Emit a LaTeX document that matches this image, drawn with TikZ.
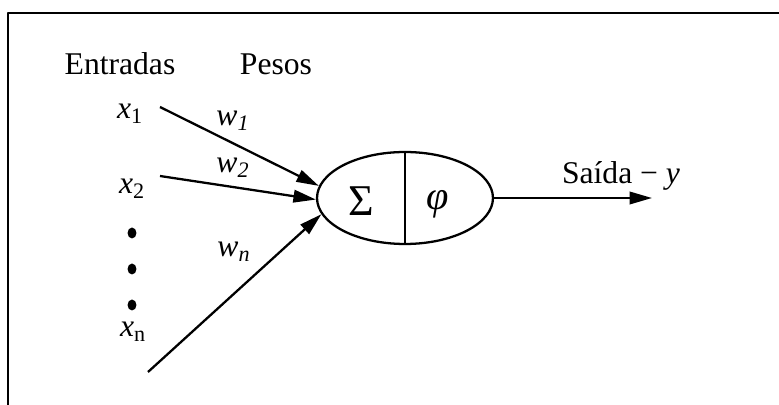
\documentclass[tikz,border=0pt]{standalone}
\usepackage{fontspec}
\setmainfont{Liberation Serif}
\usetikzlibrary{arrows.meta,shapes.geometric}
\tikzset{
  every picture/.style={line width=1.3pt, line join=round,
    >={Triangle[length=0.45cm,width=0.25cm]}},
  every node/.style={font=\fontsize{18}{20}\selectfont},
  % Linientypen
  frame/.style={line width=1.4pt},
  sig/.style={line width=1.3pt, ->},
  % Knoten
  unit/.style={ellipse, draw, line width=1.3pt, minimum width=3.52cm,
    minimum height=1.84cm, inner sep=0pt},
  dot/.style={ellipse, fill, inner sep=0pt, minimum width=0.18cm, minimum height=0.22cm},
}
\newcommand{\xin}[1]{\textit{x}\textsubscript{#1}}
\newcommand{\wgt}[1]{\textit{w}\textsubscript{\textit{#1}}}

\begin{document}
\begin{tikzpicture}[x=0.02cm, y=-0.02cm]
  \useasboundingbox (0,0) rectangle (779,405);
  % Rahmen
  \draw[frame] (8,405) -- (8,13) -- (779,13);
  % Überschriften
  \node (ent) at (120,64) {Entradas};
  \node (pes) at (276,64) {Pesos};
  % Eingänge
  \node (x1) at (130,114) {\xin{1}};
  \node (x2) at (132,189) {\xin{2}};
  \node[dot] (d1) at (132,233) {};
  \node[dot] (d2) at (132,269) {};
  \node[dot] (d3) at (132,305) {};
  \node (xn) at (133,332) {\xin{n}};
  % Neuron: Summe und Aktivierung
  \node[unit] (neuron) at (405,198) {};
  \draw (neuron.north) -- (neuron.south);
  \node[font=\fontsize{25}{26}\selectfont] (sum) at (361,201) {Σ};
  \node[font=\fontsize{23}{24}\selectfont] (act) at (438,204) {\textit{φ}};
  % Signale mit Gewichten
  \coordinate (s1) at (160,107);
  \coordinate (s2) at (160,176);
  \coordinate (sn) at (148,372);
  \draw[sig] (s1) -- (neuron.172);
  \draw[sig] (s2) -- (neuron.181);
  \draw[sig] (sn) -- (neuron.191);
  \node (w1) at (233,121) {\wgt{1}};
  \node (w2) at (233,168) {\wgt{2}};
  \node (wn) at (234,252) {\wgt{n}};
  % Ausgang
  \coordinate (out) at (652,198);
  \draw[sig] (neuron.east) -- (out);
  \node (y) at (621,176) {Saída − \textit{y}};
\end{tikzpicture}
\end{document}
